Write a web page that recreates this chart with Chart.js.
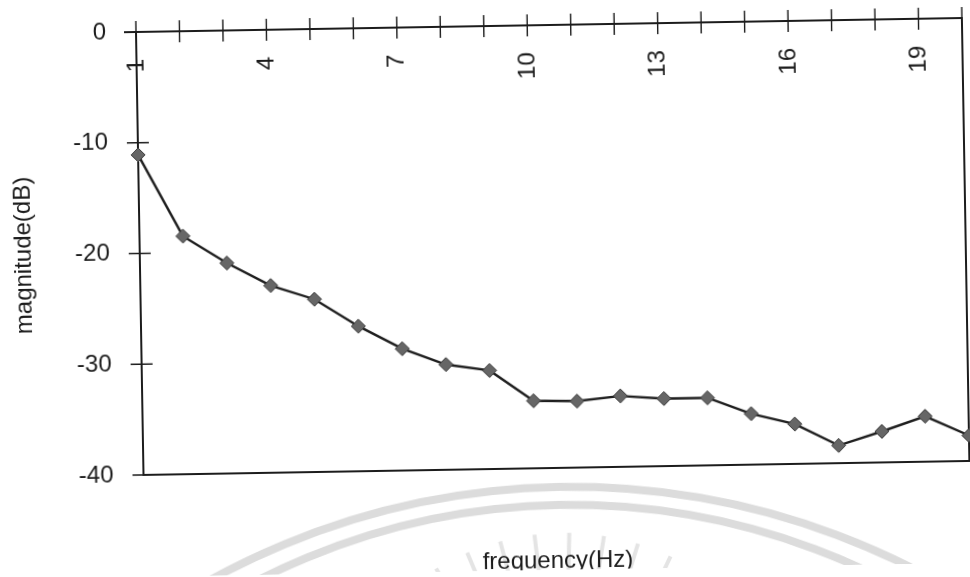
<!DOCTYPE html>
<html>
<head>
<meta charset="utf-8">
<script src="https://cdn.jsdelivr.net/npm/chart.js@4.4.1/dist/chart.umd.min.js"></script>
<style>
  html, body { margin: 0; padding: 0; background: #fff; overflow: hidden; width: 970px; height: 577px; }
  #wrap { position: absolute; left: 0; top: 0; width: 970px; height: 577px;
          transform: rotate(-0.97deg); transform-origin: 136px 32px; }
  canvas { display: block; }
</style>
</head>
<body>
<div id="wrap"><canvas id="c" width="970" height="577"></canvas></div>
<script>
// Frequency response: magnitude (dB) per frequency bin
const frequencies = [1, 2, 3, 4, 5, 6, 7, 8, 9, 10, 11, 12, 13, 14, 15, 16, 17, 18, 19, 20];
const magnitudes  = [-11.1, -18.5, -21.0, -23.1, -24.4, -26.9, -29.0, -30.5, -31.1, -33.9,
                     -34.0, -33.6, -33.9, -33.9, -35.4, -36.4, -38.4, -37.2, -35.9, -37.7];
const xTickLabels = [1, 4, 7, 10, 13, 16, 19];
const yTickValues = [0, -10, -20, -30, -40];

const FONT = '"Liberation Sans", Arial, Helvetica, sans-serif';
const INK = '#1c1c1c';

// faint printed emblem behind the lower part of the page
const watermark = {
  id: 'watermark',
  beforeDraw(chart) {
    const ctx = chart.ctx;
    ctx.save();
    ctx.strokeStyle = '#dcdcdc';
    ctx.lineWidth = 8;
    ctx.beginPath(); ctx.arc(552, 1244, 750, Math.PI, 2 * Math.PI); ctx.stroke();
    ctx.beginPath(); ctx.arc(552, 1202, 690, Math.PI, 2 * Math.PI); ctx.stroke();
    ctx.strokeStyle = '#e4e4e4';
    ctx.lineWidth = 4;
    for (let a = -160; a <= -20; a += 8) {
      const r = a * Math.PI / 180;
      ctx.beginPath();
      ctx.moveTo(552 + Math.cos(r) * 205, 790 + Math.sin(r) * 205);
      ctx.lineTo(552 + Math.cos(r) * 250, 790 + Math.sin(r) * 250);
      ctx.stroke();
    }
    ctx.restore();
  }
};

// axis lines with crossing tick marks, plot border, frequency labels and title
const frame = {
  id: 'frame',
  beforeDatasetsDraw(chart) {
    const { ctx, chartArea: a, scales: { x, y } } = chart;
    const y0 = y.getPixelForValue(0);
    const yb = y.getPixelForValue(-40);
    const xl = x.getPixelForValue(frequencies[0]);
    const xr = x.getPixelForValue(frequencies[frequencies.length - 1]);
    const t = 11;
    ctx.save();
    ctx.strokeStyle = INK;
    ctx.lineCap = 'square';
    ctx.lineWidth = 2;
    ctx.beginPath();
    ctx.moveTo(xl - t, y0); ctx.lineTo(xr, y0);          // zero line (x axis)
    ctx.moveTo(xl, y0); ctx.lineTo(xl, yb);              // y axis
    ctx.moveTo(xl, yb); ctx.lineTo(xr, yb);              // bottom border
    ctx.moveTo(xr, y0); ctx.lineTo(xr, yb);              // right border
    ctx.stroke();
    ctx.lineWidth = 1.4;
    ctx.lineCap = 'butt';
    ctx.beginPath();
    for (const f of frequencies) {
      const px = x.getPixelForValue(f);
      ctx.moveTo(px, y0 - t); ctx.lineTo(px, y0 + t);
    }
    for (const v of yTickValues) {
      const py = y.getPixelForValue(v);
      ctx.moveTo(xl - t, py); ctx.lineTo(xl + (v === -40 ? 0 : t), py);
    }
    ctx.stroke();

    ctx.fillStyle = INK;
    ctx.font = '24px ' + FONT;
    ctx.textAlign = 'right';
    ctx.textBaseline = 'middle';
    for (const f of xTickLabels) {
      ctx.save();
      ctx.translate(x.getPixelForValue(f), y0 + 27);
      ctx.rotate(-Math.PI / 2);
      ctx.fillText(String(f), 0, 0);
      ctx.restore();
    }
    ctx.textAlign = 'center';
    ctx.fillText('frequency(Hz)', (a.left + a.right) / 2, a.bottom + 93);
    ctx.restore();
  }
};

new Chart(document.getElementById('c'), {
  type: 'line',
  data: {
    datasets: [{
      data: frequencies.map((f, i) => ({ x: f, y: magnitudes[i] })),
      borderColor: '#1e1e1e',
      borderWidth: 2.4,
      tension: 0,
      pointStyle: 'rectRot',
      pointRadius: 7,
      pointBackgroundColor: '#666666',
      pointBorderColor: '#3a3a3a',
      pointBorderWidth: 1,
      clip: false
    }]
  },
  options: {
    responsive: false,
    animation: false,
    devicePixelRatio: 1,
    layout: { padding: { top: 32, bottom: 102, right: 8, left: 0 } },
    plugins: { legend: { display: false }, tooltip: { enabled: false } },
    scales: {
      x: { type: 'linear', min: 1, max: 20, display: false },
      y: {
        type: 'linear', min: -40, max: 0,
        afterBuildTicks: s => { s.ticks = yTickValues.map(v => ({ value: v })); },
        afterFit: s => { s.width = 136; s.paddingTop = 0; s.paddingBottom = 0; },
        grid: { display: false, drawTicks: false },
        border: { display: false },
        ticks: { padding: 30, color: INK, font: { family: FONT, size: 24 } },
        title: {
          display: true, text: 'magnitude(dB)', color: INK,
          font: { family: FONT, size: 24 }, padding: { top: 6, bottom: 0 }
        }
      }
    }
  },
  plugins: [watermark, frame]
});
</script>
</body>
</html>
